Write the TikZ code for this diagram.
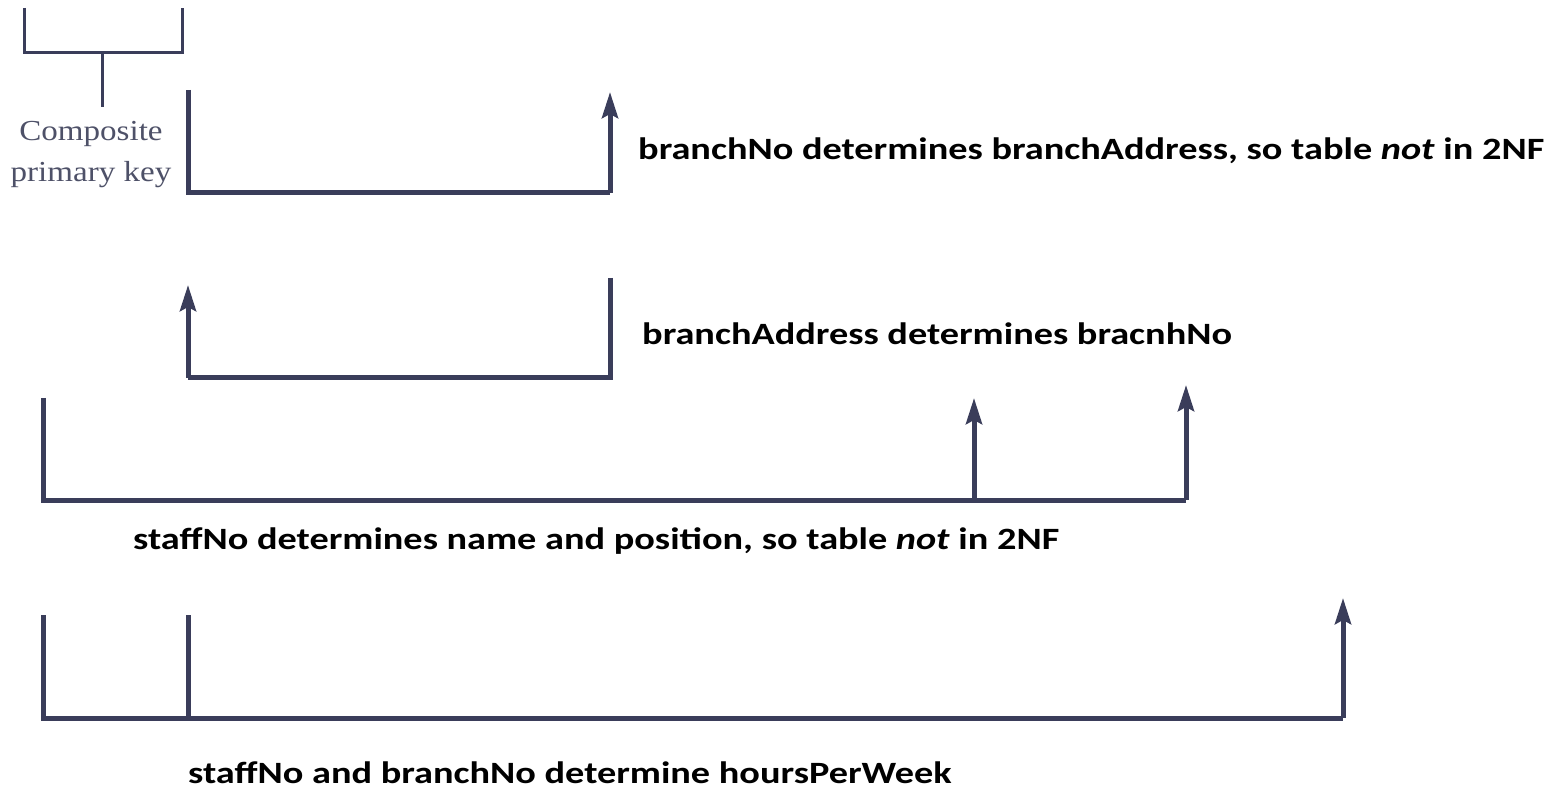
\documentclass[tikz,border=0pt]{standalone}
\usepackage{fontspec}
\setmainfont{Carlito}
\newfontfamily\lblfont[FakeStretch=1.235]{Carlito}
\newfontfamily\serifkey[FakeStretch=1.14]{Liberation Serif}
\usetikzlibrary{arrows.meta}
\definecolor{navy}{HTML}{3A3D5A}
\definecolor{keygray}{HTML}{4E5168}
\tikzset{
  fd/.style={draw=navy, line width=5pt, line join=miter},
  fdarrow/.style={fd, -{Stealth[length=26pt,width=16pt,inset=4pt]}},
  keyline/.style={draw=navy, line width=3pt},
  label/.style={anchor=west, inner sep=0pt, font=\lblfont\fontsize{31}{36}\selectfont\bfseries, text=black},
  keylabel/.style={align=center, inner sep=0pt, font=\serifkey\fontsize{29}{41}\selectfont, text=keygray}
}
\begin{document}
\begin{tikzpicture}[x=1pt,y=-1pt]
\useasboundingbox (0,0) rectangle (1561,791);
\fill[white] (0,0) rectangle (1561,791);
% composite key bracket
\coordinate (k1) at (24,8);
\coordinate (k2) at (182,8);
\coordinate (km) at (102,53);
\node[keylabel] (key) at (91,155) {Composite\\primary key};
\draw[keyline] (k1) |- (k2 |- km) -- (k2);
\draw[keyline] (km) -- (102,107);
% FD 1
\coordinate (a1) at (188,90);
\coordinate (a2) at (610,193);
\coordinate (a2t) at (610,92);
\draw[fd] (a1) |- (a2);
\draw[fdarrow] (a2) -- (a2t);
\node[label] (t1) at (638,151) {branchNo determines branchAddress, so table \textit{not} in 2NF};
% FD 2
\coordinate (b1) at (610,278);
\coordinate (b2) at (188,378);
\coordinate (b2t) at (188,285);
\draw[fd] (b1) |- (b2);
\draw[fdarrow] (b2) -- (b2t);
\node[label] (t2) at (642,334) {branchAddress determines bracnhNo};
% FD 3
\coordinate (c1) at (43,398);
\coordinate (c2) at (1186,500);
\coordinate (c2t) at (1186,385);
\coordinate (c3) at (974,500);
\coordinate (c3t) at (974,398);
\draw[fd] (c1) |- (c2);
\draw[fdarrow] (c2) -- (c2t);
\draw[fdarrow] (c3) -- (c3t);
\node[label] (t3) at (133,541) {staffNo determines name and position, so table \textit{not} in 2NF};
% FD 4
\coordinate (d1) at (43,615);
\coordinate (d2) at (1343,718);
\coordinate (d2t) at (1343,598);
\coordinate (d3) at (188,615);
\draw[fd] (d1) |- (d2);
\draw[fdarrow] (d2) -- (d2t);
\draw[fd] (d3) -- (d3 |- d2);
\node[label] (t4) at (188,773) {staffNo and branchNo determine hoursPerWeek};
\end{tikzpicture}
\end{document}
